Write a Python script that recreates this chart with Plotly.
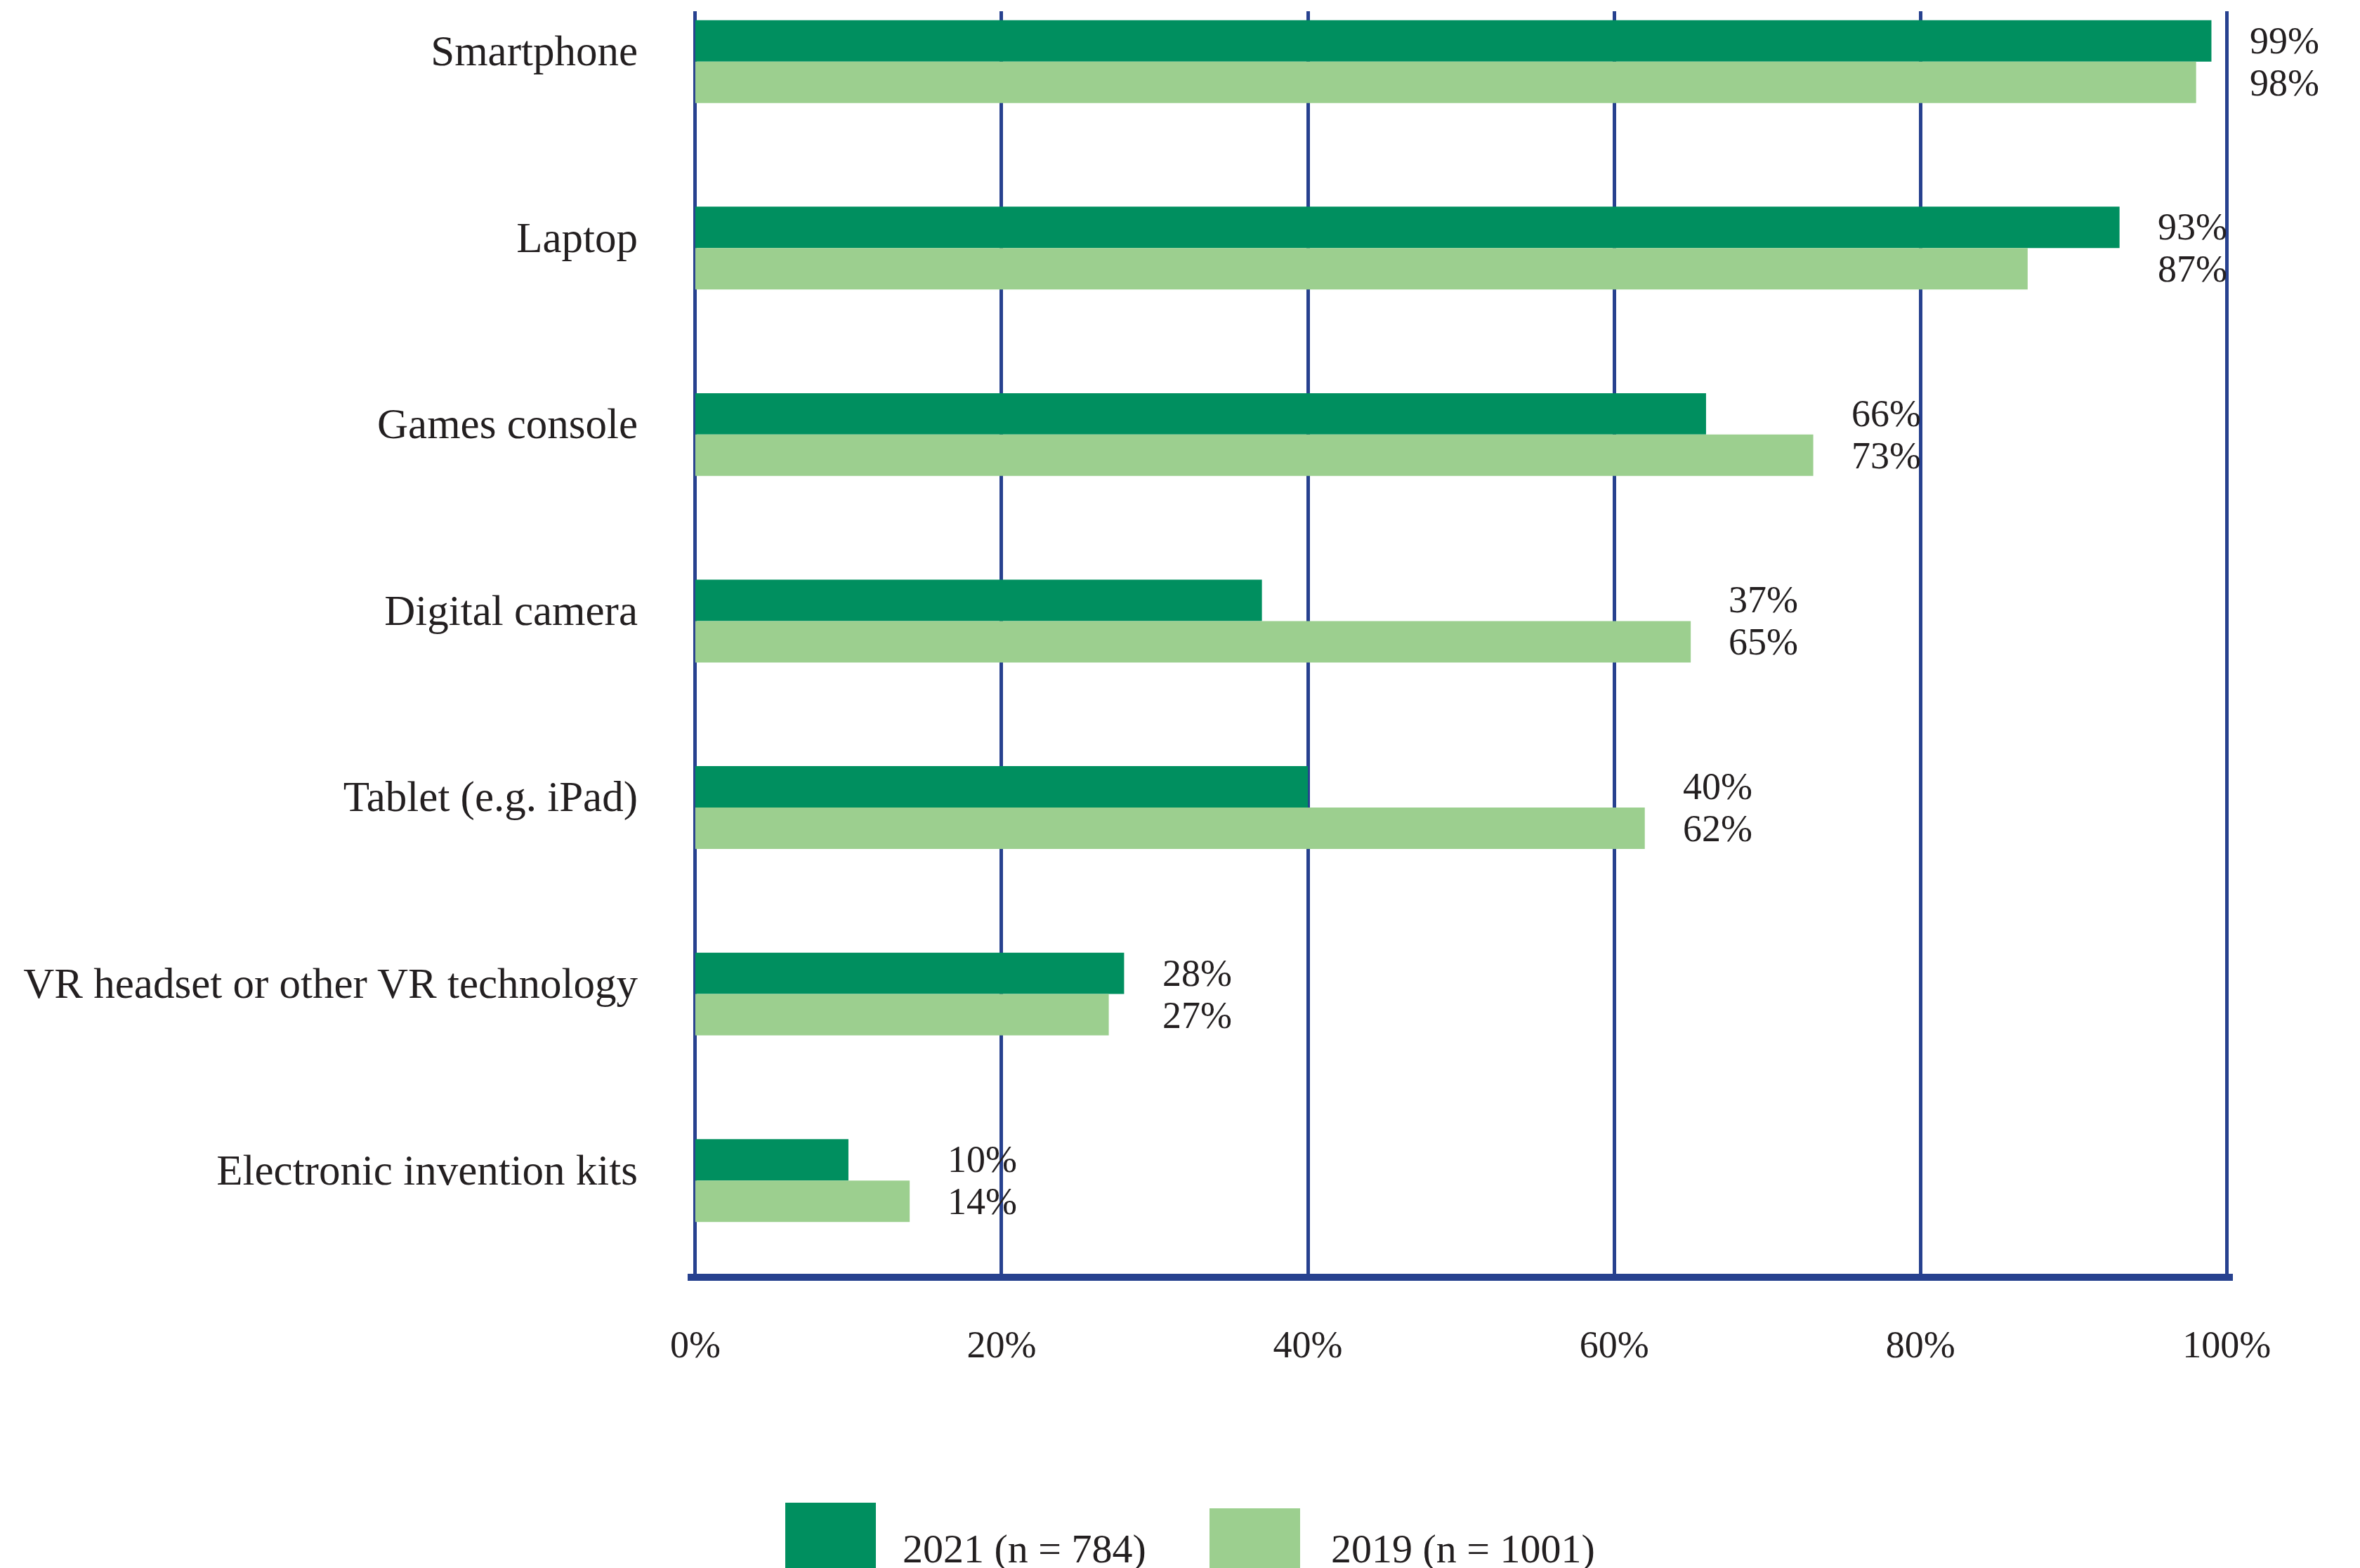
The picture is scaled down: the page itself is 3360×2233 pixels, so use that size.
import plotly.graph_objects as go

categories = ["Smartphone", "Laptop", "Games console", "Digital camera",
              "Tablet (e.g. iPad)", "VR headset or other VR technology",
              "Electronic invention kits"]
values_2021 = [99, 93, 66, 37, 40, 28, 10]
values_2019 = [98, 87, 73, 65, 62, 27, 14]
series_names = ["2021 (n = 784)", "2019 (n = 1001)"]
tick_values = [0, 20, 40, 60, 80, 100]
tick_labels = ["0%", "20%", "40%", "60%", "80%", "100%"]

DARK = "#008F5F"
LIGHT = "#9CCF8F"
BLUE = "#27418F"
TEXT = "#231F20"
FONT = "Liberation Serif"

X_RANGE = [-0.5, 100.4]
PX_PER_UNIT = 21.8
L, T, H = 971, 8, 1798
W = round((X_RANGE[1] - X_RANGE[0]) * PX_PER_UNIT)

fig = go.Figure()
fig.add_trace(go.Bar(y=categories, x=values_2021, orientation="h", name=series_names[0],
                     marker=dict(color=DARK, line=dict(width=0)), showlegend=False))
fig.add_trace(go.Bar(y=categories, x=values_2019, orientation="h", name=series_names[1],
                     marker=dict(color=LIGHT, line=dict(width=0)), showlegend=False))

def xpaper(v):
    return (v - X_RANGE[0]) / (X_RANGE[1] - X_RANGE[0])

# value labels
for cat, a, b in zip(categories, values_2021, values_2019):
    xp = xpaper(max(a, b) + 2.4)
    for val, shift in ((a, 30), (b, -30)):
        fig.add_annotation(xref="paper", x=xp, y=cat, text=f"{val}%", showarrow=False,
                           xanchor="left", yanchor="middle", yshift=shift,
                           font=dict(family=FONT, size=54, color=TEXT))

# custom legend
def px(x):
    return (x - L) / W
def py(y):
    return (T + H - y) / H

fig.add_shape(type="rect", xref="paper", yref="paper", x0=px(1110), x1=px(1239),
              y0=py(2132), y1=py(2250), fillcolor=DARK, line=dict(width=0))
fig.add_shape(type="rect", xref="paper", yref="paper", x0=px(1714), x1=px(1843),
              y0=py(2140), y1=py(2250), fillcolor=LIGHT, line=dict(width=0))
fig.add_annotation(xref="paper", yref="paper", x=px(1275), y=py(2197), text=series_names[0],
                   showarrow=False, xanchor="left", yanchor="middle",
                   font=dict(family=FONT, size=58, color=TEXT))
fig.add_annotation(xref="paper", yref="paper", x=px(1885), y=py(2197), text=series_names[1],
                   showarrow=False, xanchor="left", yanchor="middle",
                   font=dict(family=FONT, size=58, color=TEXT))

fig.update_layout(
    width=3360, height=2233,
    margin=dict(l=L, r=3360 - L - W, t=T, b=2233 - T - H),
    paper_bgcolor="white", plot_bgcolor="white",
    barmode="group", bargap=0.556, bargroupgap=0,
    font=dict(family=FONT, color=TEXT),
)
fig.update_xaxes(
    range=X_RANGE, tickvals=tick_values, ticktext=tick_labels,
    showgrid=True, gridcolor=BLUE, gridwidth=5,
    zeroline=True, zerolinecolor=BLUE, zerolinewidth=5,
    showline=True, linecolor=BLUE, linewidth=10,
    ticks="", ticklabelstandoff=44,
    tickfont=dict(family=FONT, size=54, color=TEXT),
)
fig.update_yaxes(
    categoryorder="array", categoryarray=categories,
    range=[6.5, -0.27], showgrid=False, zeroline=False, showline=False,
    ticks="", ticklabelstandoff=70, ticklabelshift=16,
    tickfont=dict(family=FONT, size=61, color=TEXT),
)

fig.write_html("out.html")
